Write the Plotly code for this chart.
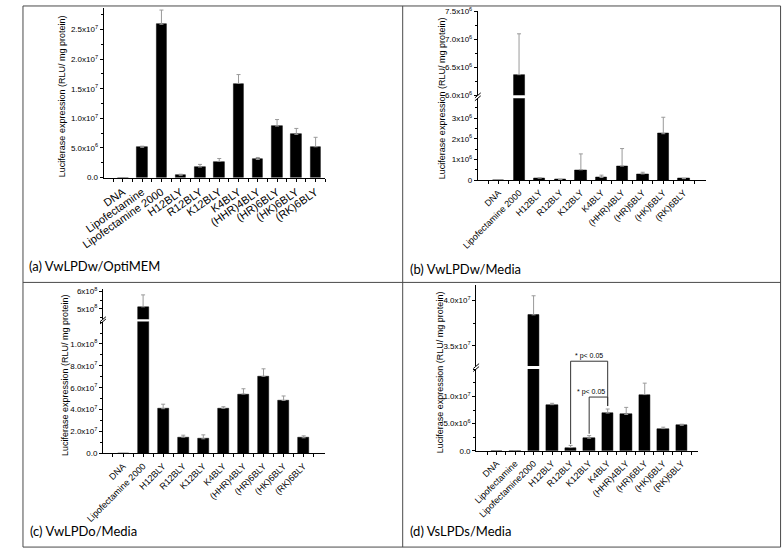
import plotly.graph_objects as go

# ---------------- data ----------------
cats_a = ["DNA", "Lipofectamine", "Lipofectamine 2000", "H12BLY", "R12BLY", "K12BLY",
          "K4BLY", "(HHR)4BLY", "(HR)6BLY", "(HK)6BLY", "(RK)6BLY"]
vals_a = [0, 5.1e6, 2.59e7, 3.9e5, 1.78e6, 2.72e6, 1.59e7, 3.06e6, 8.7e6, 7.3e6, 5.2e6]
err_a = [0, 2e5, 2.4e6, 1.7e5, 4.4e5, 5.0e5, 1.5e6, 3.3e5, 1.1e6, 1.0e6, 1.6e6]

cats_bc = ["DNA", "Lipofectamine 2000", "H12BLY", "R12BLY", "K12BLY", "K4BLY",
           "(HHR)4BLY", "(HR)6BLY", "(HK)6BLY", "(RK)6BLY"]
vals_b = [0, 6.37e6, 1.0e5, 3e4, 5.0e5, 1.3e5, 6.8e5, 3.0e5, 2.25e6, 7e4]
err_b = [0, 7.3e5, 1e4, 1e4, 7.7e5, 1.1e5, 8.5e5, 8e4, 8.0e5, 1e4]

vals_c = [0, 5.11e8, 4.09e7, 1.49e7, 1.34e7, 4.12e7, 5.43e7, 7.04e7, 4.84e7, 1.43e7]
err_c = [0, 6.9e7, 4.1e6, 1.8e6, 3.6e6, 1.5e6, 4.8e6, 6.9e6, 4.1e6, 1.8e6]

cats_d = ["DNA", "Lipofectamine", "Lipofectamine2000", "H12BLY", "R12BLY", "K12BLY",
          "K4BLY", "(HHR)4BLY", "(HR)6BLY", "(HK)6BLY", "(RK)6BLY"]
vals_d = [0, 0, 3.84e7, 8.5e6, 6e5, 2.32e6, 6.96e6, 6.7e6, 1.036e7, 4.1e6, 4.7e6]
err_d = [0, 0, 2.1e6, 2.5e5, 4e5, 4.8e5, 7.4e5, 1.3e6, 2.1e6, 2.5e5, 2e5]

ytv_a = [0, 5e6, 1e7, 1.5e7, 2e7, 2.5e7]
ytt_a = ["0.0", "5.0x10<sup>6</sup>", "1.0x10<sup>7</sup>", "1.5x10<sup>7</sup>",
         "2.0x10<sup>7</sup>", "2.5x10<sup>7</sup>"]
ytv_b_lo = [0, 1e6, 2e6, 3e6]
ytt_b_lo = ["0", "1x10<sup>6</sup>", "2x10<sup>6</sup>", "3x10<sup>6</sup>"]
ytv_b_hi = [6.0e6, 6.5e6, 7.0e6, 7.5e6]
ytt_b_hi = ["6.0x10<sup>6</sup>", "6.5x10<sup>6</sup>", "7.0x10<sup>6</sup>", "7.5x10<sup>6</sup>"]
ytv_c_lo = [0, 2e7, 4e7, 6e7, 8e7, 1e8]
ytt_c_lo = ["0.0", "2.0x10<sup>7</sup>", "4.0x10<sup>7</sup>", "6.0x10<sup>7</sup>",
            "8.0x10<sup>7</sup>", "1.0x10<sup>8</sup>"]
ytv_c_hi = [5e8, 6e8]
ytt_c_hi = ["5x10<sup>8</sup>", "6x10<sup>8</sup>"]
ytv_d_lo = [0, 5e6, 1e7]
ytt_d_lo = ["0.0", "5.0x10<sup>6</sup>", "1.0x10<sup>7</sup>"]
ytv_d_hi = [3.5e7, 4.0e7]
ytt_d_hi = ["3.5x10<sup>7</sup>", "4.0x10<sup>7</sup>"]

captions = ["(a) VwLPDw/OptiMEM", "(b) VwLPDw/Media", "(c) VwLPDo/Media", "(d) VsLPDs/Media"]
ytitle = "Luciferase expression (RLU/ mg protein)"
sig_text = "* p< 0.05"

# ---------------- layout helpers ----------------
W, H = 783, 556
def px(x):
    return x / W
def py(y):
    return 1 - y / H

FAM = "Liberation Sans, Arial"
TICKFONT = dict(family=FAM, size=8, color="black")

panels = [
    dict(cats=cats_a, vals=vals_a, err=err_a, xid="x", xdom=(84, 312), xr=(-1, 10.5), bw=0.55,
         angle=-35, xfs=11,
         segs=[dict(yid="y", dom=(175.7, 3), rng=(0, 2.866e7), tv=ytv_a, tt=ytt_a, mdt=2.5e6)],
         title=(42, 93), cap=(5, 266)),
    dict(cats=cats_bc, vals=vals_b, err=err_b, xid="x2", xdom=(469, 703.3), xr=(-1, 10.05), bw=0.55,
         angle=-45, xfs=9,
         segs=[dict(yid="y2", dom=(178.3, 95), rng=(0, 3.97e6), tv=ytv_b_lo, tt=ytt_b_lo, mdt=5e5),
               dict(yid="y3", dom=(92, 6), rng=(6.0e6, 7.51e6), tv=ytv_b_hi, tt=ytt_b_hi, mdt=2.5e5)],
         title=(432, 95), cap=(397, 269)),
    dict(cats=cats_bc, vals=vals_c, err=err_c, xid="x3", xdom=(83.3, 311.7), xr=(-1, 10.06), bw=0.55,
         angle=-45, xfs=9,
         segs=[dict(yid="y4", dom=(456.7, 322.3), rng=(0, 1.205e8), tv=ytv_c_lo, tt=ytt_c_lo, mdt=1e7),
               dict(yid="y5", dom=(320, 289.3), rng=(4.39e8, 6.136e8), tv=ytv_c_hi, tt=ytt_c_hi, mdt=5e7)],
         title=(44, 377), cap=(6, 536)),
    dict(cats=cats_d, vals=vals_d, err=err_d, xid="x4", xdom=(467.3, 696), xr=(-1.1, 10.9), bw=0.62,
         angle=-45, xfs=9,
         segs=[dict(yid="y6", dom=(454, 370.7), rng=(0, 1.506e7), tv=ytv_d_lo, tt=ytt_d_lo, mdt=2.5e6),
               dict(yid="y7", dom=(367.7, 285), rng=(3.276e7, 4.17e7), tv=ytv_d_hi, tt=ytt_d_hi, mdt=2.5e6)],
         title=(430, 374), cap=(397, 536)),
]

def axname(aid):
    return ("xaxis" if aid[0] == "x" else "yaxis") + aid[1:]

fig = go.Figure()
layout = dict(width=W, height=H, margin=dict(l=0, r=0, t=0, b=0),
              paper_bgcolor="white", plot_bgcolor="rgba(0,0,0,0)", showlegend=False,
              bargap=0)
shapes = []
annotations = []

for k, p in enumerate(panels):
    n = len(p["cats"])
    idx = list(range(n))
    lo = p["segs"][0]
    layout[axname(p["xid"])] = dict(
        domain=[px(p["xdom"][0]), px(p["xdom"][1])], range=list(p["xr"]), anchor=lo["yid"],
        tickmode="array", tickvals=idx, ticktext=p["cats"], tickangle=p["angle"],
        showline=True, linecolor="black", linewidth=1, ticks="outside", ticklen=3, tickwidth=1,
        tickcolor="black", showgrid=False, zeroline=False,
        tickfont=dict(family=FAM, size=p["xfs"], color="black"),
        minor=dict(ticks="outside", ticklen=3, tickwidth=1, tickcolor="black", dtick=1, tick0=0.5, showgrid=False),
    )
    for s in p["segs"]:
        layout[axname(s["yid"])] = dict(
            domain=[py(s["dom"][0]), py(s["dom"][1])], range=list(s["rng"]), anchor=p["xid"],
            tickmode="array", tickvals=s["tv"], ticktext=s["tt"],
            showline=True, linecolor="black", linewidth=1, ticks="outside", ticklen=3, tickwidth=1,
            tickcolor="black", showgrid=False, zeroline=False, tickfont=TICKFONT,
            minor=dict(ticks="outside", ticklen=2, tickwidth=1, tickcolor="black", dtick=s["mdt"], tick0=0,
                       showgrid=False),
        )
        fig.add_trace(go.Bar(
            x=idx, y=p["vals"], width=p["bw"], xaxis=p["xid"], yaxis=s["yid"],
            marker=dict(color="black", line=dict(color="black", width=0.5)),
            error_y=dict(type="data", symmetric=False, array=p["err"], arrayminus=[0] * n,
                         color="#9a9a9a", thickness=1, width=2),
            hoverinfo="x+y",
        ))
    # broken axis marks
    if len(p["segs"]) > 1:
        ax = p["xdom"][0]
        for yb in (p["segs"][0]["dom"][1], p["segs"][1]["dom"][0]):
            shapes.append(dict(type="line", xref="paper", yref="paper",
                               x0=px(ax - 3), y0=py(yb + 2.5), x1=px(ax + 3), y1=py(yb - 2.5),
                               line=dict(color="black", width=1)))
    # y-axis title
    annotations.append(dict(text=ytitle, xref="paper", yref="paper", x=px(p["title"][0]), y=py(p["title"][1]),
                            textangle=-90, showarrow=False, xanchor="center", yanchor="middle",
                            font=dict(family=FAM, size=9, color="black")))
    # caption
    annotations.append(dict(text=captions[k], xref="paper", yref="paper",
                            x=px(p["cap"][0]), y=py(p["cap"][1]), showarrow=False,
                            xanchor="left", yanchor="middle",
                            font=dict(family="Lato, Noto Sans", size=13, color="black")))

# significance brackets on panel (d)
pd_ = panels[3]
seg = pd_["segs"][0]
def dval2paper(v):
    d0, d1 = py(seg["dom"][0]), py(seg["dom"][1])
    r0, r1 = seg["rng"]
    return d0 + (v - r0) / (r1 - r0) * (d1 - d0)

i_r12, i_k12, i_k4 = cats_d.index("R12BLY"), cats_d.index("K12BLY"), cats_d.index("K4BLY")
foot_r = vals_d[i_k4] + err_d[i_k4] + 5.5e5
brackets = [(i_r12, 1.65e7, vals_d[i_r12] + err_d[i_r12] + 2.5e5, 4.98),
            (i_k12, 9.9e6, vals_d[i_k12] + err_d[i_k12] + 3.5e5, 5.12)]
for i_left, top, foot_l, tx in brackets:
    path = "M {a},{b} L {a},{c} L {d},{c} L {d},{e}".format(
        a=i_left, b=dval2paper(foot_l), c=dval2paper(top), d=i_k4, e=dval2paper(foot_r))
    shapes.append(dict(type="path", xref="x4", yref="paper", path=path,
                       line=dict(color="#333333", width=1)))
    annotations.append(dict(text=sig_text, xref="x4", yref="paper", x=tx, y=dval2paper(top),
                            yshift=5, showarrow=False, xanchor="center", yanchor="middle",
                            font=dict(family=FAM, size=7, color="black")))

# frame (table grid)
FR = dict(color="#4a4a4a", width=1)
shapes += [
    dict(type="rect", xref="paper", yref="paper", x0=px(1), y0=py(552), x1=px(780.5), y1=py(1), line=FR),
    dict(type="line", xref="paper", yref="paper", x0=px(391.7), y0=py(1), x1=px(391.7), y1=py(552), line=FR),
    dict(type="line", xref="paper", yref="paper", x0=px(1), y0=py(282.5), x1=px(780.5), y1=py(282.5), line=FR),
]

layout["shapes"] = shapes
layout["annotations"] = annotations
fig.update_layout(**layout)

fig.write_html("out.html", config={"displayModeBar": False},
               post_script="document.body.style.margin='0';document.body.style.overflow='hidden';")
